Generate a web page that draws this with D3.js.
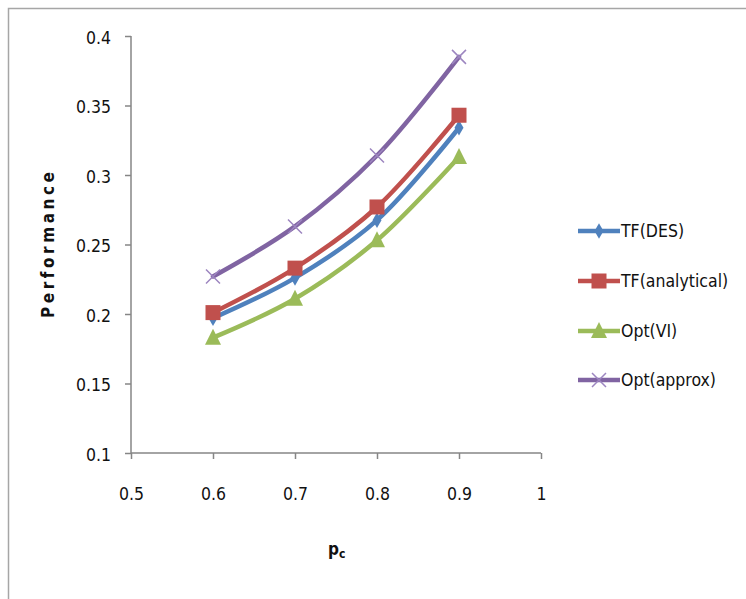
<!DOCTYPE html>
<html>
<head>
<meta charset="utf-8">
<script src="https://cdn.jsdelivr.net/npm/d3@7"></script>
<style>
  body { margin: 0; background: #fff; }
  text { font-family: "DejaVu Sans Condensed", "DejaVu Sans", sans-serif; fill: #111; }
</style>
</head>
<body>
<div id="okvir"></div>
<script>
const pcValues = [0.6, 0.7, 0.8, 0.9];
const tfDes = [0.197, 0.226, 0.2675, 0.334];
const tfAnalytical = [0.201, 0.233, 0.277, 0.343];
const optVI = [0.183, 0.211, 0.253, 0.313];
const optApprox = [0.227, 0.263, 0.314, 0.385];
const seriesNames = ["TF(DES)", "TF(analytical)", "Opt(VI)", "Opt(approx)"];
const seriesColors = ["#4F81BD", "#C0504D", "#9BBB59", "#8064A2"];
const xTicks = [0.5, 0.6, 0.7, 0.8, 0.9, 1];
const yTicks = [0.1, 0.15, 0.2, 0.25, 0.3, 0.35, 0.4];

function crtaj() {
  const sirina = 746, visina = 599;
  const svg = d3.select("#okvir").append("svg")
    .attr("width", sirina).attr("height", visina);

  // outer frame (only top and left visible)
  svg.append("rect")
    .attr("x", 8.5).attr("y", 8.5)
    .attr("width", 800).attr("height", 700)
    .attr("fill", "none").attr("stroke", "#a6a6a6").attr("stroke-width", 1.5);

  const x = d3.scaleLinear().domain([0.5, 1]).range([131, 541]);
  const y = d3.scaleLinear().domain([0.1, 0.4]).range([453, 36]);

  const axisColor = "#868686";

  const xAxis = svg.append("g")
    .attr("transform", `translate(0,${y(0.1)})`)
    .call(d3.axisBottom(x).tickValues(xTicks).tickSize(6).tickPadding(29)
      .tickFormat(d => d3.format("")(d)));
  const yAxis = svg.append("g")
    .attr("transform", `translate(${x(0.5)},0)`)
    .call(d3.axisLeft(y).tickValues(yTicks).tickSize(6).tickPadding(14)
      .tickFormat(d => d3.format("")(d)));

  [xAxis, yAxis].forEach(a => {
    a.select(".domain").attr("stroke", axisColor).attr("stroke-width", 1.5);
    a.selectAll(".tick line").attr("stroke", axisColor).attr("stroke-width", 1.5);
    a.selectAll(".tick text").style("font-size", "17.5px")
      .style("font-family", "'DejaVu Sans Condensed', sans-serif").attr("fill", "#111");
  });
  xAxis.select(".domain").attr("d", `M${x(0.5)},0H${x(1)}`);
  yAxis.select(".domain").attr("d", `M0,${y(0.4)}V${y(0.1)}`);
  yAxis.selectAll(".tick text").attr("dy", "0.42em");

  // axis titles
  svg.append("text")
    .attr("transform", "translate(54,245) rotate(-90)")
    .attr("text-anchor", "middle")
    .attr("textLength", 146).attr("lengthAdjust", "spacing")
    .style("font-size", "17px").style("font-weight", "bold")
    .text("Performance");

  const xt = svg.append("text")
    .attr("x", 328).attr("y", 555)
    .style("font-size", "17px").style("font-weight", "bold");
  xt.append("tspan").text("p");
  xt.append("tspan").attr("dy", 3).style("font-size", "12px").text("c");

  const allSeries = [tfDes, tfAnalytical, optVI, optApprox];
  const line = d3.line()
    .x((d, i) => x(pcValues[i]))
    .y(d => y(d))
    .curve(d3.curveCatmullRom.alpha(0.5));

  function marker(g, k, cx, cy, color) {
    if (k === 0) {
      g.append("path").attr("d", d3.symbol(d3.symbolDiamond, 70)())
        .attr("transform", `translate(${cx},${cy})`).attr("fill", color);
    } else if (k === 1) {
      g.append("rect").attr("x", cx - 7.5).attr("y", cy - 7.5)
        .attr("width", 15).attr("height", 15).attr("fill", color);
    } else if (k === 2) {
      g.append("path").attr("d", `M${cx},${cy - 9}L${cx + 8},${cy + 7}L${cx - 8},${cy + 7}Z`)
        .attr("fill", color);
    } else {
      g.append("path")
        .attr("d", `M${cx - 7},${cy - 7}L${cx + 7},${cy + 7}M${cx - 7},${cy + 7}L${cx + 7},${cy - 7}`)
        .attr("stroke", "#9d86c0").attr("stroke-width", 1.5).attr("fill", "none");
    }
  }

  const plot = svg.append("g");
  [0, 2, 1, 3].forEach(k => {
    const g = plot.append("g");
    g.append("path").datum(allSeries[k])
      .attr("d", line)
      .attr("fill", "none").attr("stroke", seriesColors[k])
      .attr("stroke-width", 4.5).attr("stroke-linecap", "round");
    allSeries[k].forEach((v, i) => marker(g, k, x(pcValues[i]), y(v), seriesColors[k]));
  });

  // legend
  const legendY = [231, 281, 331, 380];
  const legend = svg.append("g");
  seriesNames.forEach((name, k) => {
    const g = legend.append("g");
    g.append("line").attr("x1", 578).attr("x2", 620)
      .attr("y1", legendY[k]).attr("y2", legendY[k])
      .attr("stroke", seriesColors[k]).attr("stroke-width", 4.5);
    marker(g, k, 599, legendY[k], seriesColors[k]);
    g.append("text").attr("x", 621).attr("y", legendY[k]).attr("dy", "0.36em")
      .style("font-size", "17.5px").text(name);
  });
}

crtaj();
</script>
</body>
</html>
